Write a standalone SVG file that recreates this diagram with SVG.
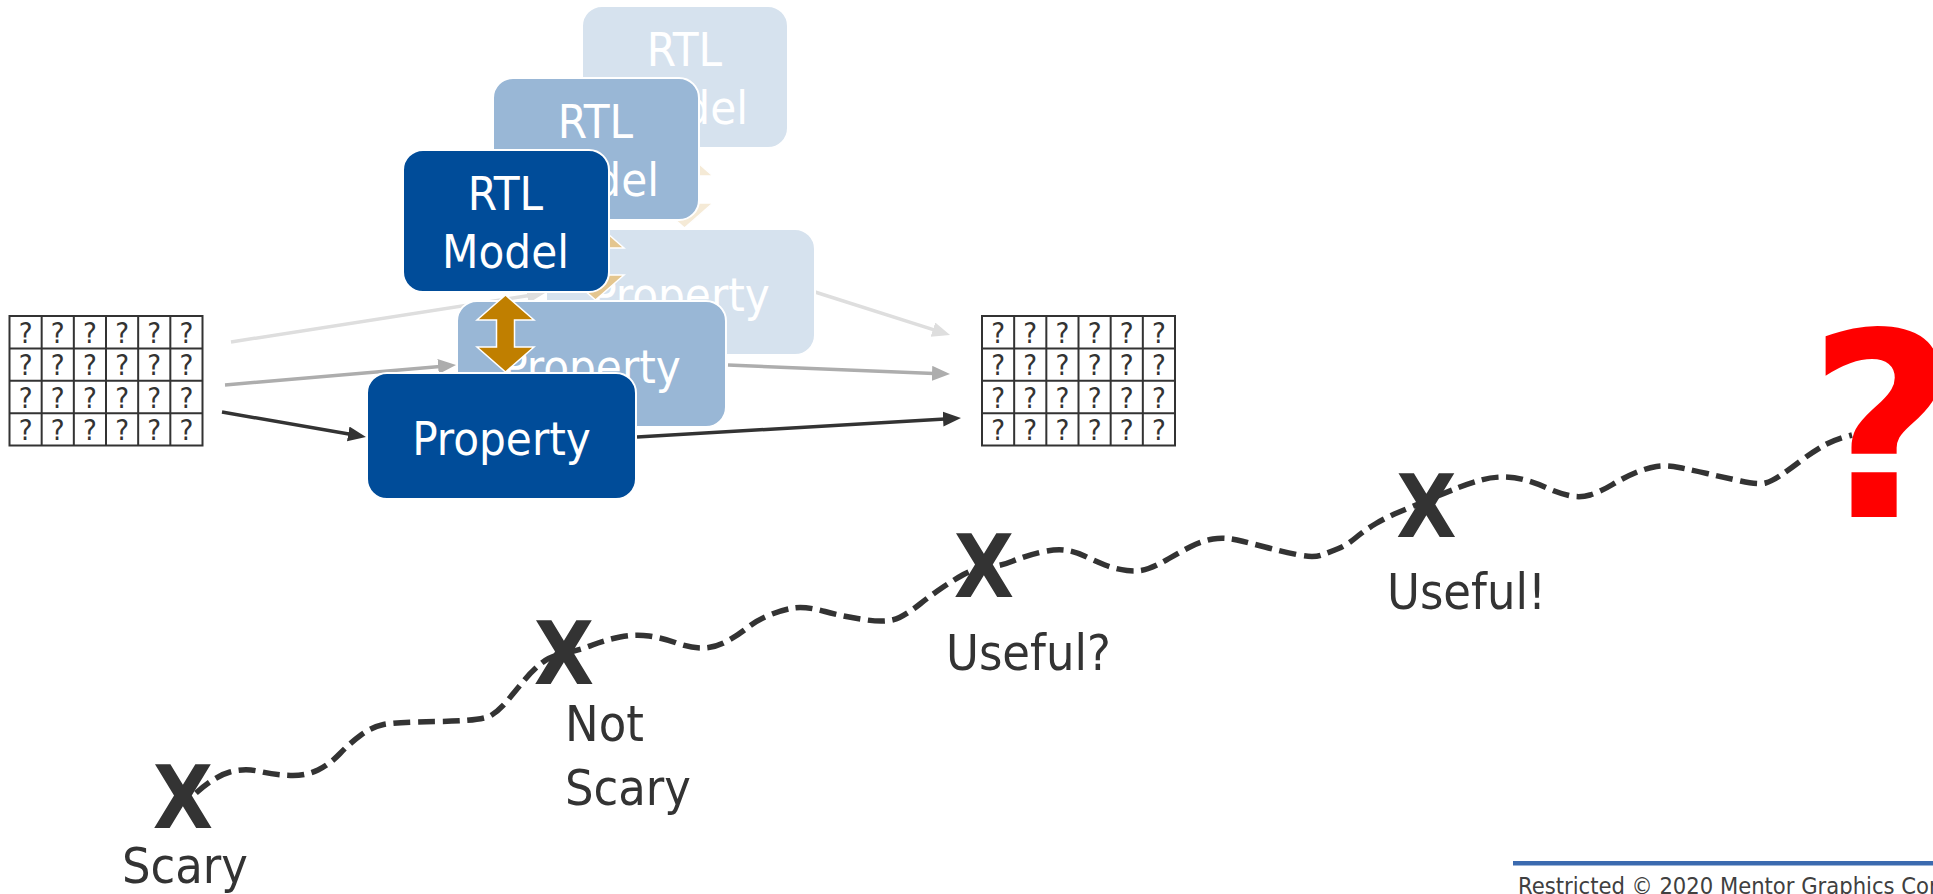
<svg xmlns="http://www.w3.org/2000/svg" xmlns:xlink="http://www.w3.org/1999/xlink" width="1933" height="894" viewBox="0 0 1933 894">
  <style>
    text { font-family: "DejaVu Sans Condensed", "Liberation Sans", sans-serif; font-stretch: condensed; }
    .box { stroke: #ffffff; stroke-width: 2; }
    .front .box { fill: #004c99; }
    .mid .box { fill: #99b7d6; }
    .back .box { fill: #d6e2ee; }
    .btxt { fill: #ffffff; font-size: 47px; text-anchor: middle; }
    .swap { stroke: #ffffff; stroke-width: 1.5; }
    .front .swap { fill: #c07f00; }
    .mid .swap { fill: #e4c68f; }
    .back .swap { fill: #f5ead6; }
    .conn { fill: none; stroke-width: 3.5; }
    .c1 { stroke: #333333; }
    .c2 { stroke: #adadad; }
    .c3 { stroke: #dedede; }
    .cell { fill: #ffffff; stroke: #333333; stroke-width: 2; }
    .q { fill: #333333; font-size: 29px; text-anchor: middle; }
    .mark { fill: #333333; font-size: 87px; font-weight: bold; text-anchor: middle; }
    .lbl { fill: #333333; font-size: 50px; }
    .trail { fill: none; stroke: #333333; stroke-width: 5.5; stroke-dasharray: 17 7.5; }
  </style>
  <defs>
    <marker id="head1" markerUnits="userSpaceOnUse" markerWidth="20" markerHeight="16" refX="2" refY="7.5" orient="auto">
      <path d="M0,0 L18,7.5 L0,15 z" fill="#333333"/>
    </marker>
    <marker id="head2" markerUnits="userSpaceOnUse" markerWidth="20" markerHeight="16" refX="2" refY="7.5" orient="auto">
      <path d="M0,0 L18,7.5 L0,15 z" fill="#adadad"/>
    </marker>
    <marker id="head3" markerUnits="userSpaceOnUse" markerWidth="20" markerHeight="16" refX="2" refY="7.5" orient="auto">
      <path d="M0,0 L18,7.5 L0,15 z" fill="#dedede"/>
    </marker>
    <!-- 6 x 4 table of unknown values -->
    <g id="qgrid">
      <rect class="cell" x="0" y="0" width="193" height="129.5"/>
      <path d="M32.17,0V129.5M64.33,0V129.5M96.5,0V129.5M128.67,0V129.5M160.83,0V129.5M0,32.375H193M0,64.75H193M0,97.125H193" stroke="#333333" stroke-width="2" fill="none"/>
      <text class="q" x="16.1 48.25 80.4 112.6 144.75 176.9" y="27">??????</text>
      <text class="q" x="16.1 48.25 80.4 112.6 144.75 176.9" y="59.4">??????</text>
      <text class="q" x="16.1 48.25 80.4 112.6 144.75 176.9" y="91.8">??????</text>
      <text class="q" x="16.1 48.25 80.4 112.6 144.75 176.9" y="124.1">??????</text>
    </g>
  </defs>

  <rect width="1933" height="894" fill="#ffffff"/>

  <!-- input and output tables -->
  <g id="table-in"><use xlink:href="#qgrid" x="9.5" y="316"/></g>
  <g id="table-out"><use xlink:href="#qgrid" x="982" y="316"/></g>

  <!-- back layer -->
  <g id="connectors-back">
    <line class="conn c3" x1="231" y1="342" x2="529.2" y2="295.5" marker-end="url(#head3)"/>
    <line class="conn c3" x1="815" y1="292" x2="934.8" y2="330.2" marker-end="url(#head3)"/>
  </g>
  <g class="back">
    <g id="rtl-back">
      <rect class="box" x="582" y="6" width="206" height="142" rx="20"/>
      <text class="btxt" x="684.5" y="66">RTL</text>
      <text class="btxt" x="684.5" y="124">Model</text>
    </g>
    <g id="property-back">
      <rect class="box" x="546" y="229" width="269" height="126" rx="20"/>
      <text class="btxt" x="680.5" y="311">Property</text>
    </g>
    <g id="swap-back">
      <polygon class="swap" points="684.5,151 713,176 693.5,176 693.5,203 713,203 684.5,228 656,203 675.5,203 675.5,176 656,176"/>
    </g>
  </g>

  <!-- middle layer -->
  <g id="connectors-mid">
    <line class="conn c2" x1="225" y1="385" x2="440.1" y2="366.4" marker-end="url(#head2)"/>
    <line class="conn c2" x1="728" y1="365" x2="934" y2="373.4" marker-end="url(#head2)"/>
  </g>
  <g class="mid">
    <g id="rtl-mid">
      <rect class="box" x="493" y="78" width="206" height="142" rx="20"/>
      <text class="btxt" x="595.5" y="138">RTL</text>
      <text class="btxt" x="595.5" y="196">Model</text>
    </g>
    <g id="property-mid">
      <rect class="box" x="457" y="301" width="269" height="126" rx="20"/>
      <text class="btxt" x="591.5" y="383">Property</text>
    </g>
    <g id="swap-mid">
      <polygon class="swap" points="595.5,223 624,248 604.5,248 604.5,275 624,275 595.5,300 567,275 586.5,275 586.5,248 567,248"/>
    </g>
  </g>

  <!-- front layer -->
  <g id="connectors-front">
    <line class="conn c1" x1="222" y1="412" x2="350.2" y2="434.3" marker-end="url(#head1)"/>
    <line class="conn c1" x1="637" y1="437" x2="945" y2="418.9" marker-end="url(#head1)"/>
  </g>
  <g class="front">
    <g id="rtl-front">
      <rect class="box" x="403" y="150" width="206" height="142" rx="20"/>
      <text class="btxt" x="505.5" y="210">RTL</text>
      <text class="btxt" x="505.5" y="268">Model</text>
    </g>
    <g id="property-front">
      <rect class="box" x="367" y="373" width="269" height="126" rx="20"/>
      <text class="btxt" x="501.5" y="455">Property</text>
    </g>
    <g id="swap-front">
      <polygon class="swap" points="505.5,295 534,320 514.5,320 514.5,347 534,347 505.5,372 477,347 496.5,347 496.5,320 477,320"/>
    </g>
  </g>

  <!-- dashed trail through the milestones -->
  <g id="trail">
    <path class="trail" d="M196,793 Q215,776 230,772 Q245,768 260,771.5 Q275,775 290.5,775.5 Q306,776 318,770 Q330,764 340,753.5 Q350,743 361,735 Q372,727 383.5,724.5 Q395,722 438.5,721.5 Q482,721 491,715.5 Q500,710 508,700 Q516,690 524,680.5 Q532,671 541,663.5 Q550,656 565,653 Q580,650 592.5,645 Q605,640 620,637 Q635,634 649,636 Q663,638 676.5,643 Q690,648 702,648 Q714,648 725.5,642 Q737,636 747,628 Q757,620 769.5,615 Q782,610 793.5,608 Q805,606 825,611.5 Q845,617 867,620 Q889,623 899.5,617.5 Q910,612 920,604 Q930,596 941,588.5 Q952,581 963.5,574.5 Q975,568 988,567 Q1001,566 1013,561 Q1025,556 1039.5,552.5 Q1054,549 1064,550 Q1074,551 1084.5,556 Q1095,561 1105,565 Q1115,569 1127,570.5 Q1139,572 1148.5,568.5 Q1158,565 1169,558.5 Q1180,552 1191,546.5 Q1202,541 1213,539 Q1224,537 1237,540 Q1250,543 1265,547 Q1280,551 1296.5,554.5 Q1313,558 1321.5,555 Q1330,552 1338.5,548.5 Q1347,545 1356,537.5 Q1365,530 1376,523.5 Q1387,517 1398,512.5 Q1409,508 1428,500 Q1447,492 1458.5,487.5 Q1470,483 1481,480 Q1492,477 1503,477 Q1514,477 1525,480 Q1536,483 1547,488 Q1558,493 1569,495.5 Q1580,498 1590,495 Q1600,492 1612.5,484.5 Q1625,477 1636,472.5 Q1647,468 1656.5,466.5 Q1666,465 1679,467.5 Q1692,470 1707,473.5 Q1722,477 1740.5,481 Q1759,485 1765.5,483 Q1772,481 1781,475 Q1790,469 1800.5,461 Q1811,453 1822,446.5 Q1833,440 1852,435"/>
  </g>

  <!-- milestones -->
  <g id="milestone-scary">
    <text class="mark" x="183" y="828">X</text>
    <text class="lbl" x="122" y="883">Scary</text>
  </g>
  <g id="milestone-not-scary">
    <text class="mark" x="564" y="684">X</text>
    <text class="lbl" x="565" y="741">Not</text>
    <text class="lbl" x="565" y="805">Scary</text>
  </g>
  <g id="milestone-useful-q">
    <text class="mark" x="984" y="597">X</text>
    <text class="lbl" x="946" y="670">Useful?</text>
  </g>
  <g id="milestone-useful">
    <text class="mark" x="1426.5" y="537">X</text>
    <text class="lbl" x="1387" y="609">Useful!</text>
  </g>
  <g id="unknown-goal">
    <text x="1808" y="517" style="font-family: 'DejaVu Sans', 'Liberation Sans', sans-serif; font-stretch: normal; font-weight: bold; font-size: 256px; fill: #ff0000;">?</text>
  </g>

  <!-- footer -->
  <g id="footer">
    <rect x="1513" y="861" width="420" height="4.5" fill="#3b6aaf"/>
    <text x="1518" y="893.5" style="font-size: 23.5px; fill: #404040;">Restricted © 2020 Mentor Graphics Cor</text>
  </g>
</svg>
